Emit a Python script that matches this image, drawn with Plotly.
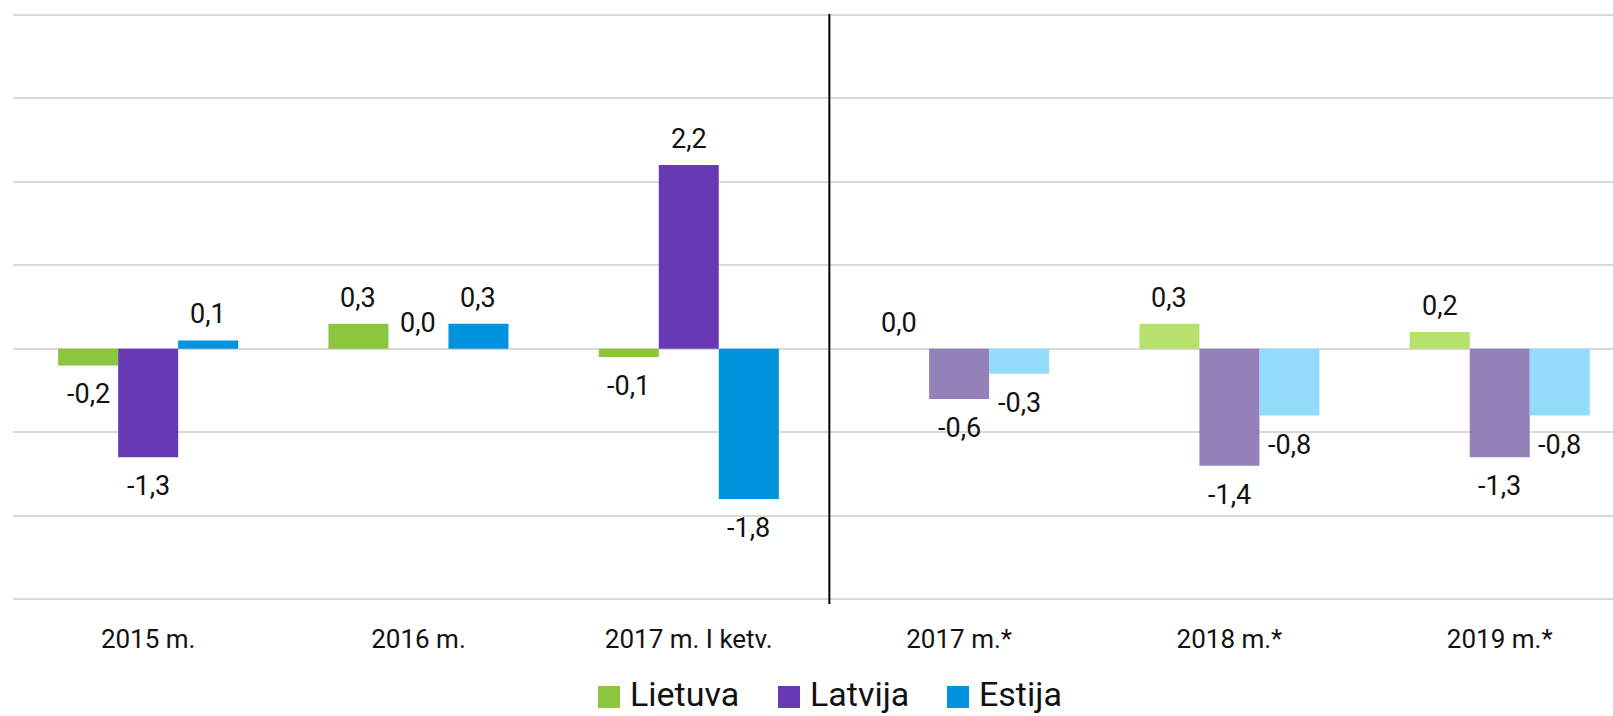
import plotly.graph_objects as go

categories = ["2015 m.", "2016 m.", "2017 m. I ketv.", "2017 m.*", "2018 m.*", "2019 m.*"]
lietuva = [-0.2, 0.3, -0.1, 0.0, 0.3, 0.2]
latvija = [-1.3, 0.0, 2.2, -0.6, -1.4, -1.3]
estija = [0.1, 0.3, -1.8, -0.3, -0.8, -0.8]
n_actual = 3  # first three categories are actual, the rest forecast

series = [
    ("Lietuva", lietuva, "#8CC63F", "#B5E16C"),
    ("Latvija", latvija, "#673AB4", "#9581BA"),
    ("Estija", estija, "#0093DD", "#93DBFA"),
]

FONT = "Roboto"
BAR_W = 0.222  # width of one bar in category units

fig = go.Figure()
annotations = []
for si, (name, vals, c_act, c_fc) in enumerate(series):
    colors = [c_act if i < n_actual else c_fc for i in range(len(vals))]
    fig.add_trace(go.Bar(
        x=categories, y=vals, name=name,
        marker=dict(color=colors, line=dict(width=0)),
        showlegend=False, hoverinfo="x+y+name",
    ))
    offset = (si - 1) * BAR_W
    for ci, v in enumerate(vals):
        annotations.append(dict(
            x=ci + offset, y=v, xref="x", yref="y",
            text=f"{v:.1f}".replace(".", ","),
            showarrow=False, yanchor="middle", xanchor="center",
            yshift=26 if v >= 0 else -29,
            font=dict(family=FONT, size=27, color="#111111"),
        ))

# custom legend (paper coordinates from pixel layout)
L, W = 13, 1600
T, H = 13, 588
def px(x):
    return (x - L) / W
def py(y):
    return (T + H - y) / H

shapes = [dict(type="line", xref="x", yref="paper", x0=2.52, x1=2.52,
               y0=py(14), y1=py(604), line=dict(color="#000000", width=2))]
legend_items = [("Lietuva", "#8CC63F", 598), ("Latvija", "#673AB4", 778), ("Estija", "#0093DD", 947)]
for name, col, x0 in legend_items:
    shapes.append(dict(type="rect", xref="paper", yref="paper",
                       x0=px(x0), x1=px(x0 + 22), y0=py(708), y1=py(686),
                       fillcolor=col, line=dict(width=0)))
    annotations.append(dict(x=px(x0 + 30), y=py(694), xref="paper", yref="paper",
                            text=name, showarrow=False, xanchor="left", yanchor="middle",
                            font=dict(family=FONT, size=34, color="#111111")))

fig.update_layout(
    width=1613, height=716,
    margin=dict(l=L, r=0, t=T, b=716 - T - H),
    paper_bgcolor="white", plot_bgcolor="white",
    barmode="group", bargap=0.334, bargroupgap=0,
    showlegend=False,
    annotations=annotations, shapes=shapes,
    font=dict(family=FONT, color="#111111"),
    xaxis=dict(range=[-0.5, 5.419], showgrid=False, zeroline=False, showline=False,
               ticks="", tickfont=dict(size=26, family=FONT, color="#111111"),
               ticklabelstandoff=20),
    yaxis=dict(range=[-3.02, 4.02], tickvals=[-3, -2, -1, 0, 1, 2, 3, 4],
               showticklabels=False, showgrid=True,
               gridcolor="#D9D9D9", gridwidth=2, zeroline=True, zerolinecolor="#D9D9D9",
               zerolinewidth=2, showline=False),
)

fig.write_html("out.html", config={"displayModeBar": False},
               post_script="document.body.style.margin='0';document.body.style.overflow='hidden';")
